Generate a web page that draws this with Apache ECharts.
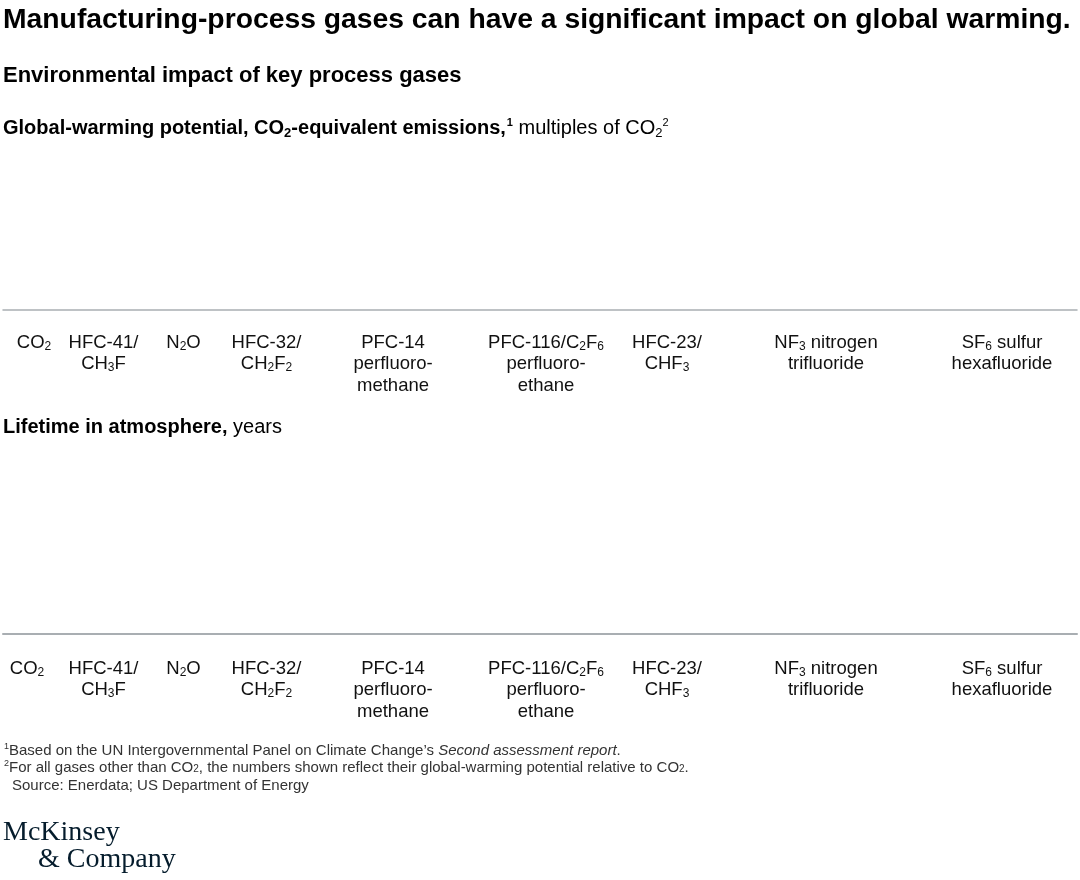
<!DOCTYPE html>
<html>
<head>
<meta charset="utf-8">
<script src="https://cdn.jsdelivr.net/npm/echarts@6/dist/echarts.min.js"></script>
<style>
  html, body { margin: 0; padding: 0; background: #ffffff; }
  #chart { width: 1080px; height: 880px; }
</style>
</head>
<body>
<div id="chart"></div>
<script>
// ---- Data ----
const gases = ['CO2', 'HFC-41/CH3F', 'N2O', 'HFC-32/CH2F2', 'PFC-14 perfluoromethane',
  'PFC-116/C2F6 perfluoroethane', 'HFC-23/CHF3', 'NF3 nitrogen trifluoride', 'SF6 sulfur hexafluoride'];
// Tick labels (rich text, with sub/superscripts)
const tickLabels = [
  '{n|CO}{s|2}',
  '{n|HFC-41/}\n{n|CH}{s|3}{n|F}',
  '{n|N}{s|2}{n|O}',
  '{n|HFC-32/}\n{n|CH}{s|2}{n|F}{s|2}',
  '{n|PFC-14}\n{n|perfluoro-}\n{n|methane}',
  '{n|PFC-116/C}{s|2}{n|F}{s|6}\n{n|perfluoro-}\n{n|ethane}',
  '{n|HFC-23/}\n{n|CHF}{s|3}',
  '{n|NF}{s|3}{n| nitrogen}\n{n|trifluoride}',
  '{n|SF}{s|6}{n| sulfur}\n{n|hexafluoride}'
];
// Series values: no bars are visible in the reference picture
const gwpValues = [];
const lifetimeValues = [];

// ---- Layout (label centre positions along the axis, in px) ----
const topLabelX = [34, 103.5, 183.5, 266.5, 393, 546, 667, 826, 1002];
const bottomLabelX = [27, 103.5, 183.5, 266.5, 393, 546, 667, 826, 1002];

const FONT = '"Liberation Sans", Arial, sans-serif';
const richLabel = {
  n: { fontFamily: FONT, fontSize: 18.5, fontWeight: 'normal', lineHeight: 21.5, color: '#111' },
  s: { fontFamily: FONT, fontSize: 12, fontWeight: 'normal', lineHeight: 12, color: '#111', verticalAlign: 'bottom', padding: [0, 0, 1, 0] }
};

function labelFor(positions) {
  return function (v) {
    let best = 0, d = Infinity;
    positions.forEach(function (p, i) { const dd = Math.abs(p - v); if (dd < d) { d = dd; best = i; } });
    return tickLabels[best];
  };
}

function xAxisFor(gridIndex, positions, lineWidth, margin) {
  return {
    type: 'value', gridIndex: gridIndex, min: 3, max: 1077,
    splitLine: { show: false },
    axisTick: { show: false },
    axisLine: { show: true, lineStyle: { color: '#a9aeb2', width: lineWidth } },
    axisLabel: {
      show: true, customValues: positions, margin: margin, align: 'center',
      fontWeight: 'normal',
      formatter: labelFor(positions), rich: richLabel, hideOverlap: false
    }
  };
}

const chart = echarts.init(document.getElementById('chart'), null, { renderer: 'canvas' });

const sup = { fontFamily: FONT, fontSize: 11, fontWeight: 'normal', lineHeight: 11, verticalAlign: 'top', color: '#000' };
const subB = { fontFamily: FONT, fontSize: 13, fontWeight: 'bold', lineHeight: 12, verticalAlign: 'bottom', color: '#000' };
const subR = { fontFamily: FONT, fontSize: 13, fontWeight: 'normal', lineHeight: 12, verticalAlign: 'bottom', color: '#000' };
const FN = '#333333';

const option = {
  backgroundColor: '#ffffff',
  animation: false,
  title: [
    {
      left: 3, top: 4, padding: 0,
      text: 'Manufacturing-process gases can have a significant impact on global warming.',
      textStyle: { fontFamily: FONT, fontSize: 28.3, fontWeight: 'bold', color: '#000', lineHeight: 32 }
    },
    {
      left: 3, top: 64, padding: 0,
      text: 'Environmental impact of key process gases',
      textStyle: { fontFamily: FONT, fontSize: 22, fontWeight: 'bold', color: '#000', lineHeight: 24 }
    },
    {
      left: 3, top: 116, padding: 0,
      text: '{b|Global-warming potential, CO}{bs|2}{b|-equivalent emissions,}{bsup|1}{r| multiples of CO}{rs|2}{rsup|2}',
      textStyle: {
        fontWeight: 'normal',
        rich: {
          b: { fontFamily: FONT, fontSize: 20, fontWeight: 'bold', lineHeight: 24, color: '#000' },
          bs: subB,
          bsup: Object.assign({}, sup, { fontWeight: 'bold', padding: [1, 0, 0, 1] }),
          r: { fontFamily: FONT, fontSize: 20, fontWeight: 'normal', lineHeight: 24, color: '#000' },
          rs: subR,
          rsup: Object.assign({}, sup, { padding: [1, 0, 0, 0] })
        }
      }
    },
    {
      left: 3, top: 415, padding: 0,
      text: '{b|Lifetime in atmosphere,}{r| years}',
      textStyle: {
        fontWeight: 'normal',
        rich: {
          b: { fontFamily: FONT, fontSize: 20, fontWeight: 'bold', lineHeight: 24, color: '#000' },
          r: { fontFamily: FONT, fontSize: 20, fontWeight: 'normal', lineHeight: 24, color: '#000' }
        }
      }
    },
    {
      left: 4, top: 742, padding: 0,
      text: '{sp|1}{r|Based on the UN Intergovernmental Panel on Climate Change\u2019s }{i|Second assessment report}{r|.}',
      textStyle: {
        fontWeight: 'normal',
        rich: {
          sp: { fontFamily: FONT, fontSize: 9, fontWeight: 'normal', lineHeight: 9, verticalAlign: 'top', color: FN },
          r: { fontFamily: FONT, fontSize: 15, fontWeight: 'normal', lineHeight: 17, color: FN },
          i: { fontFamily: FONT, fontSize: 15, fontWeight: 'normal', fontStyle: 'italic', lineHeight: 17, color: FN }
        }
      }
    },
    {
      left: 4, top: 759, padding: 0,
      text: '{sp|2}{r|For all gases other than CO}{s|2}{r|, the numbers shown reflect their global-warming potential relative to CO}{s|2}{r|.}',
      textStyle: {
        fontWeight: 'normal',
        rich: {
          sp: { fontFamily: FONT, fontSize: 9, fontWeight: 'normal', lineHeight: 9, verticalAlign: 'top', color: FN },
          r: { fontFamily: FONT, fontSize: 15, fontWeight: 'normal', lineHeight: 17, color: FN },
          s: { fontFamily: FONT, fontSize: 10, fontWeight: 'normal', lineHeight: 10, verticalAlign: 'bottom', color: FN, padding: [0, 0, 2, 0] }
        }
      }
    },
    {
      left: 12, top: 777, padding: 0,
      text: 'Source: Enerdata; US Department of Energy',
      textStyle: { fontFamily: FONT, fontSize: 15, fontWeight: 'normal', lineHeight: 17, color: FN }
    },
    {
      left: 3, top: 818, padding: 0,
      text: 'McKinsey',
      textStyle: { fontFamily: '"Liberation Serif", "DejaVu Serif", serif', fontSize: 28, fontWeight: 'normal', color: '#051c2c', lineHeight: 30 }
    },
    {
      left: 38, top: 845, padding: 0,
      text: '& Company',
      textStyle: { fontFamily: '"Liberation Serif", "DejaVu Serif", serif', fontSize: 28, fontWeight: 'normal', color: '#051c2c', lineHeight: 30 }
    }
  ],
  grid: [
    { left: 3, right: 3, top: 150, height: 160, containLabel: false },
    { left: 3, right: 3, top: 460, height: 174, containLabel: false }
  ],
  xAxis: [
    xAxisFor(0, topLabelX, 1.5, 22),
    xAxisFor(1, bottomLabelX, 2, 24)
  ],
  yAxis: [
    { type: 'value', gridIndex: 0, show: false, min: 0, max: 1 },
    { type: 'value', gridIndex: 1, show: false, min: 0, max: 1 }
  ],
  series: [
    { name: 'Global-warming potential', type: 'bar', xAxisIndex: 0, yAxisIndex: 0, data: gwpValues },
    { name: 'Lifetime in atmosphere', type: 'bar', xAxisIndex: 1, yAxisIndex: 1, data: lifetimeValues }
  ]
};

chart.setOption(option);
</script>
</body>
</html>
